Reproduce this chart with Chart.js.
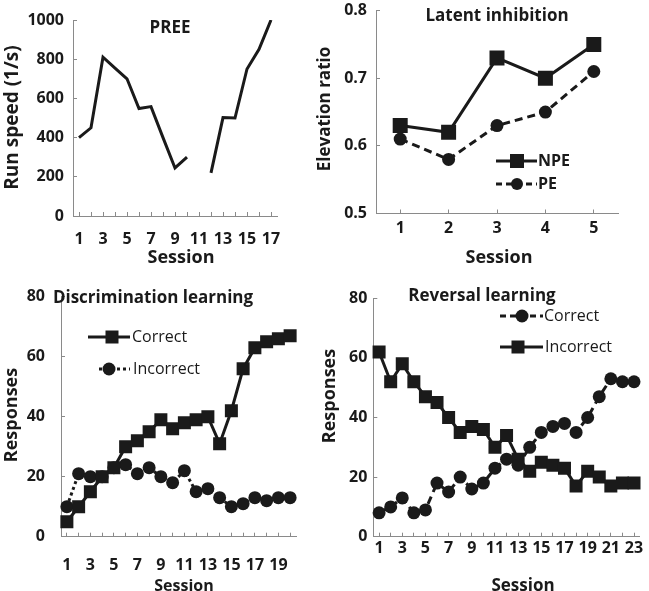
<!DOCTYPE html>
<html>
<head>
<meta charset="utf-8">
<script src="https://cdn.jsdelivr.net/npm/chart.js@4.4.0/dist/chart.umd.min.js"></script>
<style>
  html, body { margin: 0; padding: 0; background: #fff; }
  #wrap { position: relative; width: 649px; height: 591px; }
  #wrap canvas { position: absolute; left: 0; top: 0; }
</style>
</head>
<body>
<div id="wrap">
  <canvas id="c1" width="649" height="591"></canvas>
  <canvas id="c2" width="649" height="591"></canvas>
  <canvas id="c3" width="649" height="591"></canvas>
  <canvas id="c4" width="649" height="591"></canvas>
</div>
<script>
// ---- data ----
const preeSessions = ['1','2','3','4','5','6','7','8','9','10','11','12','13','14','15','16','17'];
const preeSpeed = [400, 450, 810, 755, 700, 548, 558, 400, 245, 300, null, 220, 502, 500, 750, 850, 1000];

const liSessions = ['1','2','3','4','5'];
const liNPE = [0.63, 0.62, 0.73, 0.70, 0.75];
const liPE = [0.61, 0.58, 0.63, 0.65, 0.71];

const discSessions = ['1','2','3','4','5','6','7','8','9','10','11','12','13','14','15','16','17','18','19','20'];
const discCorrect = [5, 10, 15, 20, 23, 30, 32, 35, 39, 36, 38, 39, 40, 31, 42, 56, 63, 65, 66, 67];
const discIncorrect = [10, 21, 20, 20, 23, 24, 21, 23, 20, 18, 22, 15, 16, 13, 10, 11, 13, 12, 13, 13];

const revSessions = ['1','2','3','4','5','6','7','8','9','10','11','12','13','14','15','16','17','18','19','20','21','22','23'];
const revCorrect = [8, 10, 13, 8, 9, 18, 15, 20, 16, 18, 23, 26, 24, 30, 35, 37, 38, 35, 40, 47, 53, 52, 52];
const revIncorrect = [62, 52, 58, 52, 47, 45, 40, 35, 37, 36, 30, 34, 26, 22, 25, 24, 23, 17, 22, 20, 17, 18, 18];

const W = 649, H = 591;
const INK = '#1a1a1a';
const AXIS = '#8a8a8a';
const FAMILY = '"Open Sans", sans-serif';

// draws titles, axis titles and the small legends at fixed spots
const panelText = {
  id: 'panelText',
  afterDraw(chart, args, opts) {
    const ctx = chart.ctx;
    ctx.save();
    (opts.texts || []).forEach(t => {
      ctx.save();
      ctx.font = (t.weight || 'bold') + ' ' + t.size + 'px ' + FAMILY;
      ctx.fillStyle = INK;
      ctx.textAlign = t.align || 'center';
      ctx.textBaseline = 'middle';
      ctx.translate(t.x, t.y);
      if (t.rotate) ctx.rotate(-Math.PI / 2);
      ctx.fillText(t.text, 0, 0);
      ctx.restore();
    });
    (opts.legend || []).forEach(l => {
      ctx.save();
      ctx.strokeStyle = INK;
      ctx.fillStyle = INK;
      ctx.lineWidth = 3;
      ctx.setLineDash(l.dash || []);
      ctx.beginPath();
      ctx.moveTo(l.x1, l.y);
      ctx.lineTo(l.x2, l.y);
      ctx.stroke();
      ctx.setLineDash([]);
      if (l.marker === 'rect') {
        ctx.fillRect(l.mx - l.ms / 2, l.y - l.ms / 2, l.ms, l.ms);
      } else {
        ctx.beginPath();
        ctx.arc(l.mx, l.y, l.ms / 2, 0, Math.PI * 2);
        ctx.fill();
      }
      ctx.font = (l.weight || 'normal') + ' ' + l.size + 'px ' + FAMILY;
      ctx.textAlign = 'left';
      ctx.textBaseline = 'middle';
      ctx.fillText(l.text, l.tx, l.y);
      ctx.restore();
    });
    ctx.restore();
  }
};

function lineSet(data, style, size, dash) {
  return {
    data: data,
    borderColor: INK,
    backgroundColor: INK,
    borderWidth: 3,
    borderDash: dash || [],
    pointStyle: style,
    pointRadius: style === 'rect' ? size / Math.SQRT2 : size / 2,
    pointBorderWidth: 0,
    pointBackgroundColor: INK,
    tension: 0,
    spanGaps: false,
    fill: false
  };
}

function panel(id, p) {
  const yW = 60, xH = 45;
  return new Chart(document.getElementById(id), {
    type: 'line',
    data: { labels: p.labels, datasets: p.datasets },
    options: {
      responsive: false,
      animation: false,
      events: [],
      layout: {
        padding: {
          left: p.area.left - yW,
          right: W - p.area.right,
          top: p.area.top,
          bottom: H - p.area.bottom - xH
        }
      },
      plugins: {
        legend: { display: false },
        tooltip: { enabled: false },
        panelText: { texts: p.texts, legend: p.legend }
      },
      scales: {
        x: {
          type: 'category',
          offset: true,
          grid: { drawOnChartArea: false, drawTicks: true, tickLength: -4, color: AXIS, offset: false },
          border: { color: AXIS, width: 1 },
          ticks: {
            autoSkip: false,
            maxRotation: 0,
            color: INK,
            padding: p.xPad,
            font: { family: FAMILY, size: p.tickSize, weight: 'bold' },
            callback: function (v, i) { return (i % p.every === 0) ? this.getLabelForValue(v) : ''; }
          },
          afterFit: s => { s.height = xH; s.paddingLeft = 0; s.paddingRight = 0; }
        },
        y: {
          min: p.yMin,
          max: p.yMax,
          grid: { drawOnChartArea: false, drawTicks: true, tickLength: -4, color: AXIS },
          border: { color: AXIS, width: 1 },
          ticks: {
            stepSize: p.yStep,
            color: INK,
            padding: p.yPad,
            font: { family: FAMILY, size: p.tickSize, weight: 'bold' },
            callback: v => p.yFmt ? v.toFixed(p.yFmt) : String(v)
          },
          afterFit: s => { s.width = yW; s.paddingTop = 0; s.paddingBottom = 0; }
        }
      }
    },
    plugins: [panelText]
  });
}

// PREE
panel('c1', {
  labels: preeSessions,
  datasets: [lineSet(preeSpeed, 'circle', 0)],
  area: { left: 73, right: 277, top: 20, bottom: 216 },
  yMin: 0, yMax: 1000, yStep: 200,
  tickSize: 16, xPad: 18, yPad: 13, every: 2,
  texts: [
    { text: 'PREE', x: 170, y: 28, size: 17 },
    { text: 'Run speed (1/s)', x: 13, y: 117.5, size: 19, rotate: true },
    { text: 'Session', x: 181, y: 258, size: 18 }
  ]
});

// Latent inhibition
panel('c2', {
  labels: liSessions,
  datasets: [lineSet(liNPE, 'rect', 15), lineSet(liPE, 'circle', 13, [8, 5])],
  area: { left: 376, right: 618, top: 7.5, bottom: 213.5 },
  yMin: 0.5, yMax: 0.8, yStep: 0.1, yFmt: 1,
  tickSize: 16, xPad: 9, yPad: 13, every: 1,
  texts: [
    { text: 'Latent inhibition', x: 497, y: 16, size: 17 },
    { text: 'Elevation ratio', x: 325, y: 109, size: 17, rotate: true },
    { text: 'Session', x: 499, y: 258, size: 18 }
  ],
  legend: [
    { x1: 496, x2: 537, y: 161, marker: 'rect', mx: 517, ms: 14, text: 'NPE', tx: 538, size: 16, weight: 'bold' },
    { x1: 496, x2: 537, y: 184, dash: [6, 4], marker: 'circle', mx: 517, ms: 12, text: 'PE', tx: 538, size: 16, weight: 'bold' }
  ]
});

// Discrimination learning
panel('c3', {
  labels: discSessions,
  datasets: [lineSet(discCorrect, 'rect', 13), lineSet(discIncorrect, 'circle', 13, [3, 3])],
  area: { left: 61, right: 296, top: 296.7, bottom: 536.7 },
  yMin: 0, yMax: 80, yStep: 20,
  tickSize: 16, xPad: 23, yPad: 20, every: 2,
  texts: [
    { text: 'Discrimination learning', x: 153, y: 298, size: 17 },
    { text: 'Responses', x: 12, y: 415, size: 18, rotate: true },
    { text: 'Session', x: 184, y: 586, size: 16 }
  ],
  legend: [
    { x1: 88, x2: 130, y: 337, marker: 'rect', mx: 112, ms: 13, text: 'Correct', tx: 132, size: 16 },
    { x1: 99, x2: 130, y: 369, dash: [3, 3], marker: 'circle', mx: 109, ms: 13, text: 'Incorrect', tx: 133, size: 16 }
  ]
});

// Reversal learning
panel('c4', {
  labels: revSessions,
  datasets: [lineSet(revCorrect, 'circle', 13, [8, 5]), lineSet(revIncorrect, 'rect', 13)],
  area: { left: 373.3, right: 645, top: 298.3, bottom: 536.7 },
  yMin: 0, yMax: 80, yStep: 20,
  tickSize: 16, xPad: 6, yPad: 10, every: 2,
  texts: [
    { text: 'Reversal learning', x: 482, y: 296, size: 17 },
    { text: 'Responses', x: 330, y: 396, size: 18, rotate: true },
    { text: 'Session', x: 523, y: 586, size: 17 }
  ],
  legend: [
    { x1: 500, x2: 543, y: 316, dash: [6, 4], marker: 'circle', mx: 522, ms: 13, text: 'Correct', tx: 544, size: 16 },
    { x1: 500, x2: 543, y: 347, marker: 'rect', mx: 518, ms: 13, text: 'Incorrect', tx: 545, size: 16 }
  ]
});
</script>
</body>
</html>
